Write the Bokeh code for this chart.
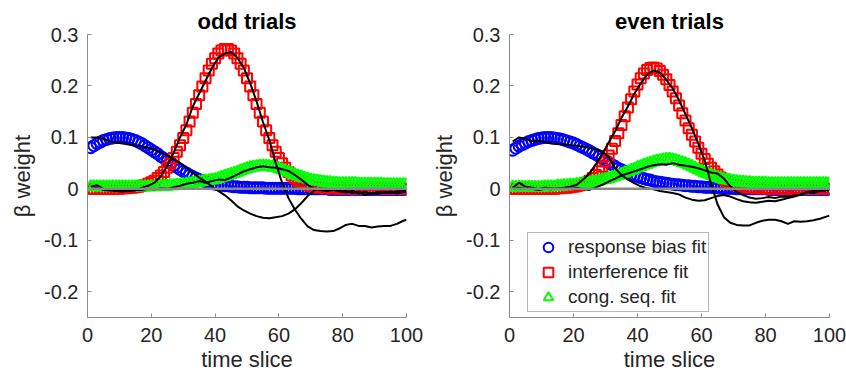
from bokeh.plotting import figure
from bokeh.layouts import row
from bokeh.models import Range1d, FixedTicker, CustomJSTickFormatter, Legend, LegendItem
from bokeh.embed import file_html
from bokeh.resources import INLINE

# ---------------- data ----------------
time_slices = list(range(1, 101))
data_slices = list(range(1, 100, 2)) + [100]
x_ticks = [0, 20, 40, 60, 80, 100]
y_ticks = [-0.2, -0.1, 0, 0.1, 0.2, 0.3]
panel_titles = ["odd trials", "even trials"]
legend_labels = ["response bias fit", "interference fit", "cong. seq. fit"]

odd_bias_fit = [
    0.080, 0.084, 0.088, 0.091, 0.094, 0.096, 0.098, 0.099, 0.100, 0.100,
    0.100, 0.099, 0.098, 0.096, 0.094, 0.091, 0.088, 0.084, 0.080, 0.076,
    0.072, 0.068, 0.063, 0.059, 0.054, 0.050, 0.046, 0.042, 0.038, 0.034,
    0.031, 0.027, 0.024, 0.021, 0.018, 0.016, 0.014, 0.012, 0.010, 0.009,
    0.008, 0.007, 0.006, 0.006, 0.005, 0.004, 0.004, 0.003, 0.003, 0.003,
    0.002, 0.002, 0.002, 0.002, 0.002, 0.001, 0.001, 0.001, 0.001, 0.001,
    0.001, 0.001, 0.001, 0.001, 0.001, 0.000, 0.000, 0.000, 0.000, 0.000,
    0.000, 0.000, 0.000, 0.000, 0.000, -0.001, -0.001, -0.001, -0.001, -0.001,
    -0.001, -0.001, -0.001, -0.001, -0.001, -0.001, -0.001, -0.001, -0.001, -0.001,
    -0.001, -0.001, -0.001, -0.001, -0.001, -0.001, -0.001, -0.001, -0.001, -0.001,
]
odd_interf_fit = [
    0.000, 0.000, 0.000, 0.000, 0.000, 0.000, 0.000, 0.000, 0.000, 0.000,
    0.001, 0.001, 0.002, 0.002, 0.003, 0.004, 0.006, 0.007, 0.010, 0.013,
    0.016, 0.021, 0.026, 0.033, 0.041, 0.050, 0.060, 0.072, 0.085, 0.099,
    0.114, 0.131, 0.148, 0.165, 0.182, 0.199, 0.215, 0.230, 0.243, 0.254,
    0.263, 0.269, 0.272, 0.272, 0.269, 0.263, 0.254, 0.243, 0.230, 0.215,
    0.199, 0.182, 0.165, 0.148, 0.131, 0.114, 0.099, 0.085, 0.072, 0.060,
    0.050, 0.041, 0.033, 0.026, 0.021, 0.016, 0.013, 0.010, 0.007, 0.006,
    0.004, 0.003, 0.002, 0.002, 0.001, 0.001, 0.001, 0.001, 0.000, 0.000,
    0.000, 0.000, 0.000, 0.000, 0.000, 0.000, 0.000, 0.000, 0.000, 0.000,
    0.000, 0.000, 0.000, 0.000, 0.000, 0.000, 0.000, 0.000, 0.000, 0.000,
]
odd_cong_fit = [
    0.004, 0.004, 0.004, 0.004, 0.004, 0.004, 0.004, 0.004, 0.004, 0.004,
    0.004, 0.004, 0.004, 0.004, 0.004, 0.004, 0.004, 0.004, 0.004, 0.004,
    0.004, 0.005, 0.005, 0.005, 0.005, 0.006, 0.006, 0.007, 0.007, 0.008,
    0.009, 0.010, 0.011, 0.012, 0.013, 0.014, 0.015, 0.016, 0.017, 0.018,
    0.020, 0.022, 0.024, 0.026, 0.028, 0.030, 0.032, 0.035, 0.037, 0.039,
    0.041, 0.042, 0.043, 0.044, 0.044, 0.044, 0.043, 0.042, 0.041, 0.039,
    0.037, 0.035, 0.032, 0.030, 0.027, 0.025, 0.023, 0.021, 0.019, 0.017,
    0.016, 0.015, 0.014, 0.013, 0.012, 0.012, 0.011, 0.011, 0.010, 0.010,
    0.010, 0.010, 0.010, 0.010, 0.009, 0.009, 0.009, 0.009, 0.009, 0.009,
    0.009, 0.009, 0.008, 0.008, 0.008, 0.008, 0.008, 0.008, 0.008, 0.008,
]
even_bias_fit = [
    0.075, 0.079, 0.083, 0.086, 0.089, 0.092, 0.094, 0.096, 0.098, 0.099,
    0.100, 0.100, 0.100, 0.099, 0.098, 0.097, 0.095, 0.093, 0.091, 0.089,
    0.086, 0.083, 0.080, 0.077, 0.074, 0.070, 0.067, 0.063, 0.059, 0.055,
    0.051, 0.047, 0.044, 0.040, 0.037, 0.034, 0.031, 0.028, 0.026, 0.024,
    0.022, 0.020, 0.018, 0.017, 0.015, 0.014, 0.013, 0.012, 0.011, 0.010,
    0.009, 0.008, 0.008, 0.007, 0.006, 0.006, 0.005, 0.005, 0.004, 0.004,
    0.003, 0.003, 0.003, 0.002, 0.002, 0.001, 0.001, 0.001, 0.001, 0.001,
    0.000, 0.000, 0.000, 0.000, 0.000, 0.000, 0.000, 0.000, 0.000, 0.000,
    -0.001, -0.001, -0.001, -0.001, -0.001, -0.001, -0.001, -0.001, -0.001, -0.001,
    -0.001, -0.001, -0.001, -0.001, -0.001, -0.001, -0.001, -0.001, -0.001, -0.001,
]
even_interf_fit = [
    0.000, 0.000, 0.000, 0.000, 0.000, 0.000, 0.000, 0.000, 0.000, 0.000,
    0.000, 0.000, 0.000, 0.000, 0.001, 0.001, 0.002, 0.002, 0.003, 0.004,
    0.005, 0.007, 0.009, 0.012, 0.016, 0.021, 0.027, 0.034, 0.043, 0.053,
    0.065, 0.078, 0.093, 0.108, 0.124, 0.141, 0.158, 0.174, 0.189, 0.203,
    0.215, 0.224, 0.231, 0.235, 0.236, 0.234, 0.229, 0.222, 0.213, 0.202,
    0.189, 0.176, 0.162, 0.147, 0.133, 0.118, 0.105, 0.092, 0.080, 0.068,
    0.058, 0.049, 0.041, 0.034, 0.028, 0.022, 0.018, 0.014, 0.011, 0.009,
    0.007, 0.005, 0.004, 0.003, 0.002, 0.002, 0.001, 0.001, 0.001, 0.001,
    0.000, 0.000, 0.000, 0.000, 0.000, 0.000, 0.000, 0.000, 0.000, 0.000,
    0.000, 0.000, 0.000, 0.000, 0.000, 0.000, 0.000, 0.000, 0.000, 0.000,
]
even_cong_fit = [
    0.003, 0.003, 0.003, 0.003, 0.003, 0.003, 0.003, 0.003, 0.003, 0.003,
    0.004, 0.004, 0.004, 0.004, 0.005, 0.005, 0.006, 0.006, 0.007, 0.007,
    0.008, 0.009, 0.010, 0.011, 0.012, 0.013, 0.014, 0.015, 0.017, 0.018,
    0.020, 0.022, 0.024, 0.026, 0.028, 0.031, 0.033, 0.036, 0.038, 0.041,
    0.043, 0.046, 0.048, 0.050, 0.052, 0.054, 0.055, 0.056, 0.057, 0.057,
    0.056, 0.055, 0.053, 0.051, 0.049, 0.046, 0.043, 0.040, 0.037, 0.034,
    0.031, 0.029, 0.026, 0.024, 0.022, 0.020, 0.018, 0.017, 0.016, 0.015,
    0.014, 0.013, 0.013, 0.012, 0.012, 0.011, 0.011, 0.011, 0.011, 0.011,
    0.010, 0.010, 0.010, 0.010, 0.010, 0.010, 0.010, 0.010, 0.010, 0.010,
    0.010, 0.010, 0.010, 0.010, 0.010, 0.010, 0.010, 0.010, 0.010, 0.010,
]

odd_bias_data = [
    0.100, 0.100, 0.097, 0.093, 0.090, 0.088, 0.086, 0.084, 0.083, 0.080,
    0.076, 0.071, 0.065, 0.058, 0.050, 0.041, 0.032, 0.022, 0.014, 0.005,
    -0.004, -0.012, -0.022, -0.034, -0.042, -0.048, -0.053, -0.056, -0.057, -0.055,
    -0.053, -0.048, -0.040, -0.028, -0.014, -0.003, 0.001, -0.002, 0.000, -0.004,
    -0.007, -0.004, -0.009, -0.006, -0.010, -0.006, -0.008, -0.005, -0.009, -0.006,
    -0.006,
]
odd_interf_data = [
    0.000, 0.002, -0.002, -0.003, -0.004, -0.005, -0.003, -0.003, 0.002, 0.006,
    0.012, 0.025, 0.045, 0.070, 0.100, 0.125, 0.160, 0.185, 0.210, 0.235,
    0.255, 0.263, 0.266, 0.255, 0.235, 0.205, 0.170, 0.130, 0.095, 0.050,
    0.012, -0.018, -0.040, -0.058, -0.073, -0.080, -0.082, -0.083, -0.082, -0.077,
    -0.070, -0.068, -0.072, -0.072, -0.075, -0.073, -0.072, -0.072, -0.068, -0.062,
    -0.060,
]
odd_cong_data = [
    0.004, 0.007, 0.000, -0.002, -0.002, -0.003, -0.004, -0.002, -0.002, 0.000,
    -0.001, 0.001, 0.000, 0.003, 0.006, 0.010, 0.012, 0.015, 0.012, 0.015,
    0.018, 0.017, 0.022, 0.028, 0.034, 0.038, 0.042, 0.044, 0.042, 0.041,
    0.038, 0.035, 0.027, 0.018, 0.008, 0.000, -0.002, -0.004, -0.002, -0.005,
    -0.004, -0.008, -0.005, -0.012, -0.008, -0.010, -0.006, -0.008, -0.005, -0.004,
    -0.003,
]
even_bias_data = [
    0.092, 0.100, 0.097, 0.093, 0.093, 0.091, 0.088, 0.087, 0.086, 0.085,
    0.084, 0.082, 0.080, 0.077, 0.073, 0.062, 0.040, 0.027, 0.018, 0.011,
    0.005, 0.001, -0.001, -0.004, -0.006, -0.008, -0.011, -0.017, -0.021, -0.023,
    -0.022, -0.018, -0.014, -0.012, -0.015, -0.020, -0.024, -0.026, -0.027, -0.025,
    -0.023, -0.024, -0.021, -0.018, -0.015, -0.011, -0.006, -0.004, -0.003, -0.001,
    0.000,
]
even_interf_data = [
    0.000, 0.002, 0.000, 0.000, -0.002, 0.000, -0.001, 0.001, 0.002, 0.004,
    0.008, 0.018, 0.030, 0.048, 0.068, 0.090, 0.112, 0.138, 0.160, 0.185,
    0.205, 0.222, 0.230, 0.226, 0.212, 0.195, 0.172, 0.145, 0.118, 0.088,
    0.055, 0.010, -0.030, -0.055, -0.066, -0.070, -0.071, -0.071, -0.066, -0.062,
    -0.060, -0.060, -0.063, -0.068, -0.063, -0.064, -0.063, -0.061, -0.058, -0.054,
    -0.052,
]
even_cong_data = [
    0.002, 0.012, 0.004, 0.002, 0.000, 0.002, 0.001, 0.000, 0.001, 0.000,
    0.002, 0.000, -0.002, 0.003, 0.008, 0.014, 0.020, 0.026, 0.030, 0.034,
    0.038, 0.043, 0.046, 0.048, 0.047, 0.050, 0.047, 0.045, 0.043, 0.040,
    0.036, 0.032, 0.030, 0.020, 0.005, -0.006, -0.012, -0.017, -0.019, -0.018,
    -0.016, -0.018, -0.015, -0.016, -0.013, -0.012, -0.006, -0.008, -0.004, -0.003,
    -0.002,
]

# ---------------- styling ----------------
FONT = "Liberation Sans"
TXT = "#262626"
AX = "#8c8c8c"


def make_panel(title, fits, data_lines, show_legend, border_left, border_right):
    p = figure(width=423, height=380, x_range=Range1d(0, 100), y_range=Range1d(-0.25, 0.3),
               output_backend="svg", toolbar_location=None,
               min_border_left=border_left, min_border_right=border_right,
               min_border_top=34, min_border_bottom=63)
    p.outline_line_color = None
    p.xgrid.visible = False
    p.ygrid.visible = False
    p.background_fill_color = "white"
    p.border_fill_color = "white"

    p.title.text = title
    p.title.text_font = FONT
    p.title.text_font_size = "22px"
    p.title.text_font_style = "bold"
    p.title.text_color = "#000000"
    p.title.align = "center"
    p.title.standoff = 2

    xa = p.xaxis[0]
    ya = p.yaxis[0]
    xa.ticker = FixedTicker(ticks=x_ticks)
    ya.ticker = FixedTicker(ticks=y_ticks)
    ya.formatter = CustomJSTickFormatter(
        code="return Math.abs(tick) < 1e-9 ? '0' : tick.toFixed(1);")
    xa.axis_label = "time slice"
    ya.axis_label = "\u03b2 weight"
    for ax in (xa, ya):
        ax.axis_line_color = AX
        ax.axis_line_width = 1
        ax.major_tick_line_color = AX
        ax.major_tick_in = 4
        ax.major_tick_out = 0
        ax.minor_tick_line_color = None
        ax.major_label_text_font = FONT
        ax.major_label_text_font_size = "20px"
        ax.major_label_text_color = TXT
        ax.axis_label_text_font = FONT
        ax.axis_label_text_font_size = "22px"
        ax.axis_label_text_font_style = "normal"
        ax.axis_label_text_color = TXT
    xa.major_label_standoff = 10
    ya.major_label_standoff = 9
    xa.axis_label_standoff = 2
    ya.axis_label_standoff = 6

    bias, interf, cong = fits
    r_b = p.scatter(time_slices, bias, marker="circle", size=11, fill_alpha=0,
                    line_color="#0000ff", line_width=2)
    r_i = p.scatter(time_slices, interf, marker="square", size=10, fill_alpha=0,
                    line_color="#ff0000", line_width=2)
    r_c = p.scatter(time_slices, cong, marker="triangle", size=12, fill_alpha=0,
                    line_color="#00ff00", line_width=2)
    for d in data_lines:
        p.line(data_slices, d, line_color="black", line_width=2)
    p.line([time_slices[0], time_slices[-1]], [0, 0], line_color="#888888", line_width=2.5)

    if show_legend:
        legend = Legend(items=[LegendItem(label=legend_labels[0], renderers=[r_b]),
                               LegendItem(label=legend_labels[1], renderers=[r_i]),
                               LegendItem(label=legend_labels[2], renderers=[r_c])],
                        location=(18, 5))
        legend.label_text_font = FONT
        legend.label_text_font_size = "19px"
        legend.label_text_color = TXT
        legend.padding = 2
        legend.spacing = 1
        legend.margin = 0
        legend.label_height = 24
        legend.glyph_height = 24
        legend.glyph_width = 36
        legend.label_standoff = 2
        legend.border_line_color = "#707070"
        legend.border_line_width = 1
        legend.background_fill_color = "white"
        legend.background_fill_alpha = 1
        p.add_layout(legend)
    return p


p1 = make_panel(panel_titles[0], (odd_bias_fit, odd_interf_fit, odd_cong_fit),
                (odd_bias_data, odd_interf_data, odd_cong_data), False, 87, 17)
p2 = make_panel(panel_titles[1], (even_bias_fit, even_interf_fit, even_cong_fit),
                (even_bias_data, even_interf_data, even_cong_data), True, 86, 17)

layout = row(p1, p2)
open("out.html", "w").write(file_html(layout, INLINE))
